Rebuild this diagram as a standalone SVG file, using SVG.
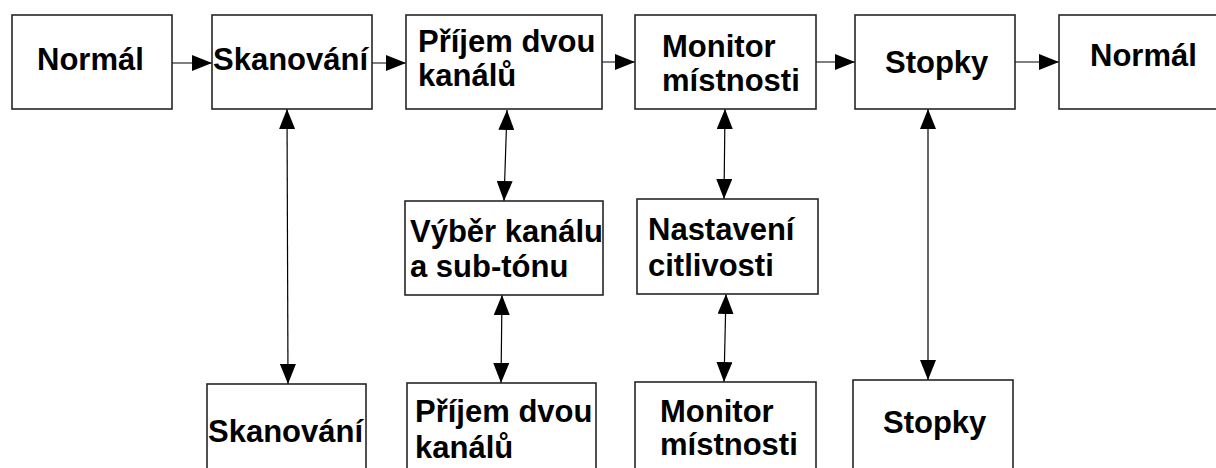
<svg xmlns="http://www.w3.org/2000/svg" width="1216" height="468" viewBox="0 0 1216 468">
<style>
.box{fill:#fff;stroke:#262626;stroke-width:1.6}
.t{font-family:"Liberation Sans",Arial,sans-serif;font-weight:bold;font-size:31px;fill:#000}
.c{fill:none;stroke:#000;stroke-width:1.2}
</style>
<defs>
<marker id="ah" markerUnits="userSpaceOnUse" markerWidth="20" markerHeight="16" refX="20" refY="8" orient="auto-start-reverse" viewBox="0 0 20 16">
<path d="M0,0 L20,8 L0,16 z" fill="#000"/>
</marker>
</defs>
<rect width="1216" height="468" fill="#fff"/>
<g id="connectors">
<line class="c" x1="172" y1="63" x2="212" y2="63" marker-end="url(#ah)"/>
<line class="c" x1="372" y1="63" x2="406" y2="63" marker-end="url(#ah)"/>
<line class="c" x1="602" y1="62" x2="635" y2="62" marker-end="url(#ah)"/>
<line class="c" x1="816" y1="62" x2="855" y2="62" marker-end="url(#ah)"/>
<line class="c" x1="1015" y1="62" x2="1059" y2="62" marker-end="url(#ah)"/>
<line class="c" x1="287" y1="109" x2="288" y2="384" marker-start="url(#ah)" marker-end="url(#ah)"/>
<line class="c" x1="507" y1="110" x2="504" y2="201" marker-start="url(#ah)" marker-end="url(#ah)"/>
<line class="c" x1="502" y1="295" x2="501" y2="383" marker-start="url(#ah)" marker-end="url(#ah)"/>
<line class="c" x1="725" y1="109" x2="724" y2="199" marker-start="url(#ah)" marker-end="url(#ah)"/>
<line class="c" x1="726" y1="294" x2="724" y2="382" marker-start="url(#ah)" marker-end="url(#ah)"/>
<line class="c" x1="928" y1="109" x2="928" y2="380" marker-start="url(#ah)" marker-end="url(#ah)"/>
</g>
<g id="normal1"><rect class="box" x="12" y="15" width="160" height="94"/><text class="t" x="37" y="70">Normál</text></g>
<g id="skanovani1"><rect class="box" x="212" y="15" width="160" height="94"/><text class="t" x="213" y="70">Skanování</text></g>
<g id="prijem1"><rect class="box" x="406" y="15" width="196" height="94"/><text class="t" x="418" y="52">Příjem dvou</text><text class="t" x="418" y="86">kanálů</text></g>
<g id="monitor1"><rect class="box" x="635" y="15" width="181" height="94"/><text class="t" x="662" y="57">Monitor</text><text class="t" x="662" y="91">místnosti</text></g>
<g id="stopky1"><rect class="box" x="855" y="15" width="160" height="94"/><text class="t" x="885" y="73">Stopky</text></g>
<g id="normal2"><rect class="box" x="1059" y="15" width="170" height="94"/><text class="t" x="1090" y="66">Normál</text></g>
<g id="vyber"><rect class="box" x="405" y="201" width="198" height="94"/><text class="t" x="410" y="242">Výběr kanálu</text><text class="t" x="410" y="277">a sub-tónu</text></g>
<g id="nastaveni"><rect class="box" x="637" y="199" width="181" height="95"/><text class="t" x="648" y="240">Nastavení</text><text class="t" x="648" y="276">citlivosti</text></g>
<g id="skanovani2"><rect class="box" x="207" y="384" width="159" height="100"/><text class="t" x="208" y="442">Skanování</text></g>
<g id="prijem2"><rect class="box" x="407" y="383" width="189" height="100"/><text class="t" x="415" y="422">Příjem dvou</text><text class="t" x="415" y="458">kanálů</text></g>
<g id="monitor2"><rect class="box" x="635" y="382" width="181" height="100"/><text class="t" x="660" y="422">Monitor</text><text class="t" x="660" y="455">místnosti</text></g>
<g id="stopky2"><rect class="box" x="853" y="380" width="160" height="100"/><text class="t" x="883" y="433">Stopky</text></g>
</svg>
